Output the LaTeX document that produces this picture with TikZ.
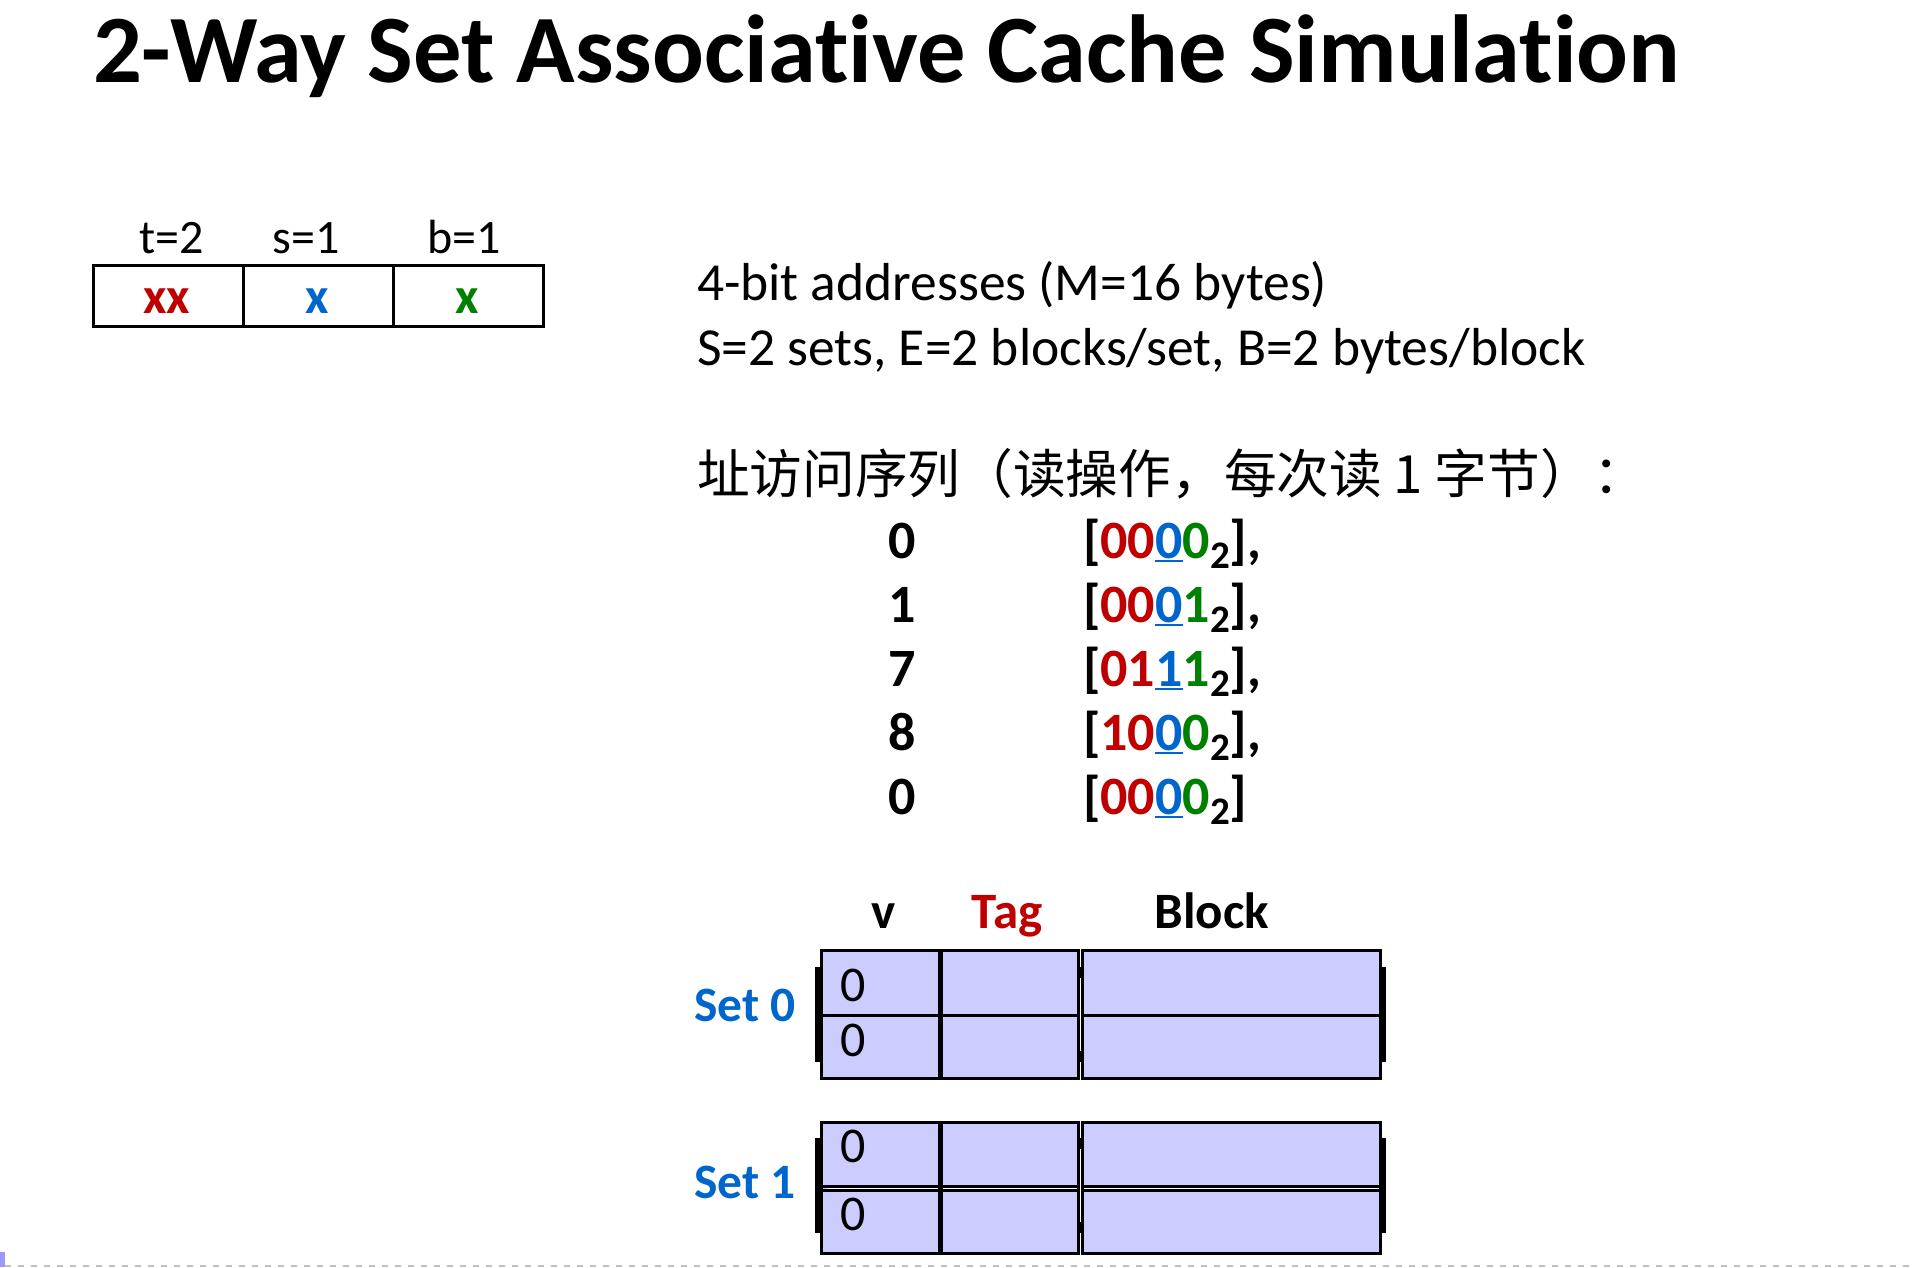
\documentclass[tikz,border=0pt]{standalone}
\usepackage{fontspec}
\setmainfont{Carlito}[Ligatures=NoCommon]
\newfontfamily\cjk{Noto Sans CJK SC}
\definecolor{cred}{HTML}{C00000}
\definecolor{cblue}{HTML}{0066CC}
\definecolor{cgreen}{HTML}{008000}
\definecolor{lav}{HTML}{CCCCFF}
\definecolor{dashgray}{HTML}{C0C0C0}
\definecolor{barpurple}{HTML}{9999FF}
\newcommand\fs[1]{\fontsize{#1}{#1}\selectfont}
\newcommand\ubit[1]{\setbox0=\hbox{\textcolor{cblue}{#1}}\rlap{\color{cblue}\rule[-4pt]{\wd0}{2.5pt}}\box0}
\newcommand\subtwo{\raisebox{-10pt}{\fs{39}2}}
\newcommand\addr[4]{[\textcolor{cred}{#1}\ubit{#2}\textcolor{cgreen}{#3}\subtwo]#4}
\begin{document}
\begin{tikzpicture}[x=1pt,y=-1pt,
  txt/.style={inner sep=0,outer sep=0,anchor=base},
  txtw/.style={inner sep=0,outer sep=0,anchor=base west},
  field/.style={draw=black,line width=3pt,inner sep=0,minimum width=150,minimum height=61},
  cellbox/.style={draw=black,fill=lav,line width=3pt},
  setbar/.style={fill=black,draw=none}]
\useasboundingbox (0,0) rectangle (1912,1267);

% title
\node[txtw] (title) at (93,82) {\fs{96.6}\bfseries 2-Way Set Associative Cache Simulation};

% address fields
\node[field] (tf) at (168,295.5) {};
\node[field] (sf) at (318,295.5) {};
\node[field] (bf) at (468,295.5) {};
\node[txt] (tl) at (172,253) {\fs{48}t=2};
\node[txt] (sl) at (306,253) {\fs{48}s=1};
\node[txt] (bl) at (464,253) {\fs{48}b=1};
\node[txt] (tx) at (167,313) {\fs{51}\bfseries\textcolor{cred}{xx}};
\node[txt] (sx) at (317,313) {\fs{51}\bfseries\textcolor{cblue}{x}};
\node[txt] (bx) at (467,313) {\fs{51}\bfseries\textcolor{cgreen}{x}};

% parameters
\node[txtw] (p1) at (697,300) {\fs{53.5}4-bit addresses (M=16 bytes)};
\node[txtw] (p2) at (697,365) {\fs{53.5}S=2 sets, E=2 blocks/set, B=2 bytes/block};
\node[txtw] (p3) at (697,493) {\cjk\fs{52.7}址访问序列（读操作，每次读 1 字节）：};

% access sequence
\node[txt] (n1) at (902,558) {\fs{54}\bfseries 0};
\node[txt] (n2) at (902,622) {\fs{54}\bfseries 1};
\node[txt] (n3) at (902,686) {\fs{54}\bfseries 7};
\node[txt] (n4) at (902,750) {\fs{54}\bfseries 8};
\node[txt] (n5) at (902,814) {\fs{54}\bfseries 0};
\node[txtw] (a1) at (1083,558) {\fs{54}\bfseries\addr{00}{0}{0}{,}};
\node[txtw] (a2) at (1083,622) {\fs{54}\bfseries\addr{00}{0}{1}{,}};
\node[txtw] (a3) at (1083,686) {\fs{54}\bfseries\addr{01}{1}{1}{,}};
\node[txtw] (a4) at (1083,750) {\fs{54}\bfseries\addr{10}{0}{0}{,}};
\node[txtw] (a5) at (1083,814) {\fs{54}\bfseries\addr{00}{0}{0}{}};

% cache header
\node[txt] (hv) at (884,928) {\fs{51}\bfseries v};
\node[txt] (htag) at (1007,928) {\fs{51}\bfseries\textcolor{cred}{Tag}};
\node[txt] (hblock) at (1212,928) {\fs{51}\bfseries Block};

% set 0
\fill[setbar] (815,967) rectangle (822,1062);
\fill[setbar] (1380,967) rectangle (1386,1062);
\draw[cellbox] (821.5,950.5) rectangle (1078.5,1078.5);
\draw[cellbox] (1082.5,950.5) rectangle (1380.5,1078.5);
\draw[line width=3pt] (821.5,1015.5) -- (1078.5,1015.5);
\draw[line width=3pt] (1082.5,1015.5) -- (1380.5,1015.5);
\draw[line width=5pt] (940.5,950.5) -- (940.5,1078.5);
\fill[setbar] (1078,967) rectangle (1083,978);
\fill[setbar] (1078,1051) rectangle (1083,1062);
\node[txt] (v00) at (853,1001) {\fs{50}0};
\node[txt] (v01) at (853,1056) {\fs{50}0};
\node[txtw] (set0) at (694,1021) {\fs{49.5}\bfseries\textcolor{cblue}{Set 0}};

% set 1
\fill[setbar] (815,1138) rectangle (822,1233);
\fill[setbar] (1380,1138) rectangle (1386,1233);
\draw[cellbox] (821.5,1122.5) rectangle (1078.5,1253.5);
\draw[cellbox] (1082.5,1122.5) rectangle (1380.5,1253.5);
\draw[line width=3pt] (821.5,1186) -- (1078.5,1186);
\draw[line width=3pt] (1082.5,1186) -- (1380.5,1186);
\draw[line width=3pt] (821.5,1190.5) -- (1078.5,1190.5);
\draw[line width=3pt] (1082.5,1190.5) -- (1380.5,1190.5);
\draw[white,line width=1.3pt] (827,1188.25) -- (1077,1188.25);
\draw[white,line width=1.3pt] (1084,1188.25) -- (1379,1188.25);
\draw[line width=5pt] (940.5,1122.5) -- (940.5,1253.5);
\fill[setbar] (1078,1138) rectangle (1083,1149);
\fill[setbar] (1078,1222) rectangle (1083,1233);
\node[txt] (v10) at (853,1162) {\fs{50}0};
\node[txt] (v11) at (853,1230) {\fs{50}0};
\node[txtw] (set1) at (694,1198) {\fs{49.5}\bfseries\textcolor{cblue}{Set 1}};

% bottom decoration
\draw[dashgray,line width=1.6pt,dash pattern=on 6pt off 7pt] (5,1266) -- (1912,1266);
\fill[barpurple] (0,1252) rectangle (5,1267);
\end{tikzpicture}
\end{document}
